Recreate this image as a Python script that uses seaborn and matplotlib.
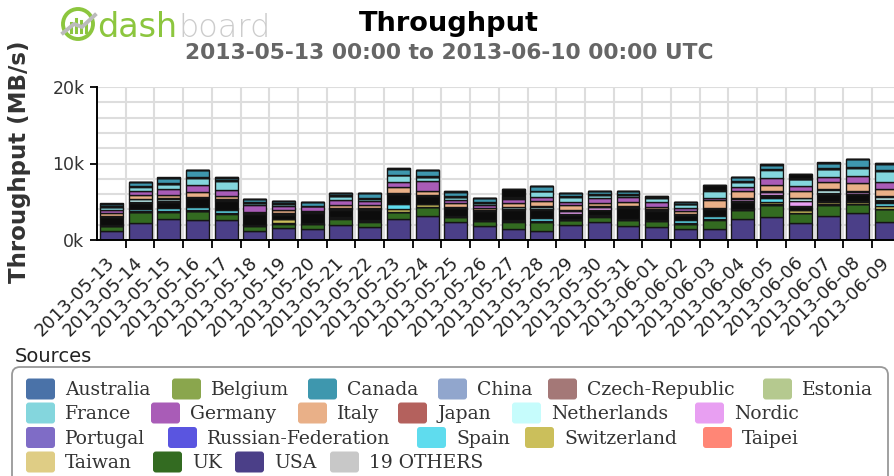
import numpy as np
import pandas as pd
import matplotlib
matplotlib.use("Agg")
import matplotlib.pyplot as plt
from matplotlib.patches import FancyBboxPatch, Circle
import seaborn as sns

# ==========================================
# DATA (throughput per source, in thousands of MB/s)
# ==========================================
days = ["2013-05-13", "2013-05-14", "2013-05-15", "2013-05-16", "2013-05-17",
        "2013-05-18", "2013-05-19", "2013-05-20", "2013-05-21", "2013-05-22",
        "2013-05-23", "2013-05-24", "2013-05-25", "2013-05-26", "2013-05-27",
        "2013-05-28", "2013-05-29", "2013-05-30", "2013-05-31", "2013-06-01",
        "2013-06-02", "2013-06-03", "2013-06-04", "2013-06-05", "2013-06-06",
        "2013-06-07", "2013-06-08", "2013-06-09"]

usa = [1.15, 2.2, 2.8, 2.6, 2.6, 1.2, 1.55, 1.5, 1.9, 1.75, 2.75, 3.1, 2.35, 1.8,
       1.5, 1.2, 1.9, 2.4, 1.85, 1.75, 1.4, 1.5, 2.7, 3.0, 2.25, 3.1, 3.5, 2.35]
uk = [0.65, 1.4, 0.85, 1.15, 0.85, 0.65, 0.6, 0.6, 0.9, 0.65, 0.85, 1.15, 0.65, 0.7,
      0.9, 1.15, 0.7, 0.65, 0.75, 0.75, 0.7, 1.15, 1.2, 1.55, 1.22, 1.45, 1.15, 1.65]
taiwan = [0.05, 0.06, 0.05, 0.05, 0.05, 0.04, 0.05, 0.04, 0.05, 0.05, 0.06, 0.05, 0.04, 0.04,
          0.05, 0.05, 0.04, 0.05, 0.04, 0.04, 0.04, 0.05, 0.06, 0.06, 0.05, 0.06, 0.06, 0.05]
taipei = [0.04, 0.04, 0.04, 0.05, 0.04, 0.03, 0.04, 0.04, 0.04, 0.04, 0.05, 0.05, 0.04, 0.04,
          0.04, 0.04, 0.03, 0.04, 0.04, 0.03, 0.03, 0.04, 0.05, 0.05, 0.04, 0.05, 0.05, 0.04]
switzerland = [0.02, 0.05, 0.03, 0.05, 0.04, 0.02, 0.45, 0.03, 0.04, 0.03, 0.35, 0.35, 0.03, 0.02,
               0.03, 0.05, 0.03, 0.03, 0.04, 0.02, 0.03, 0.04, 0.05, 0.35, 0.37, 0.37, 0.26, 0.38]
spain = [0.03, 0.35, 0.35, 0.35, 0.4, 0.02, 0.03, 0.02, 0.04, 0.03, 0.65, 0.05, 0.03, 0.03,
         0.04, 0.45, 0.03, 0.04, 0.05, 0.03, 0.45, 0.3, 0.05, 0.42, 0.05, 0.06, 0.05, 0.38]
others_mid = [1.05, 0.75, 0.8, 1.2, 1.15, 1.45, 0.6, 1.3, 1.0, 1.4, 1.25, 0.95, 1.0, 1.15,
              1.35, 1.0, 0.6, 0.65, 1.45, 1.2, 0.6, 0.95, 0.85, 0.38, 0.37, 0.92, 0.9, 0.25]
russia = [0.05, 0.05, 0.06, 0.05, 0.05, 0.05, 0.04, 0.05, 0.05, 0.05, 0.05, 0.05, 0.05, 0.05,
          0.05, 0.05, 0.05, 0.05, 0.05, 0.05, 0.04, 0.05, 0.05, 0.06, 0.05, 0.05, 0.05, 0.05]
portugal = [0.04, 0.04, 0.04, 0.04, 0.04, 0.03, 0.04, 0.03, 0.04, 0.04, 0.04, 0.04, 0.04, 0.04,
            0.04, 0.04, 0.03, 0.04, 0.04, 0.04, 0.03, 0.04, 0.04, 0.04, 0.04, 0.04, 0.05, 0.04]
nordic = [0.02, 0.03, 0.03, 0.02, 0.03, 0.02, 0.02, 0.02, 0.03, 0.02, 0.03, 0.03, 0.02, 0.02,
          0.03, 0.03, 0.4, 0.38, 0.03, 0.02, 0.02, 0.03, 0.35, 0.36, 0.67, 0.04, 0.26, 0.04]
netherlands = [0.02, 0.35, 0.35, 0.03, 0.03, 0.02, 0.02, 0.02, 0.03, 0.03, 0.04, 0.03, 0.02, 0.02,
               0.25, 0.3, 0.03, 0.03, 0.03, 0.02, 0.02, 0.03, 0.04, 0.05, 0.37, 0.43, 0.05, 0.45]
japan = [0.06, 0.06, 0.06, 0.07, 0.06, 0.05, 0.05, 0.05, 0.06, 0.06, 0.07, 0.06, 0.05, 0.05,
         0.06, 0.06, 0.05, 0.06, 0.06, 0.05, 0.05, 0.06, 0.06, 0.07, 0.06, 0.07, 0.07, 0.06]
italy = [0.4, 0.45, 0.45, 0.6, 0.45, 0.03, 0.4, 0.03, 0.45, 0.4, 0.8, 0.55, 0.58, 0.22,
         0.45, 0.65, 0.65, 0.45, 0.55, 0.37, 0.38, 0.95, 0.88, 0.8, 0.92, 0.98, 1.03, 0.95]
germany = [0.4, 0.6, 0.8, 0.9, 0.8, 0.9, 0.55, 0.65, 0.62, 0.52, 0.55, 1.2, 0.35, 0.35,
           0.55, 0.6, 0.4, 0.63, 0.62, 0.55, 0.44, 0.36, 0.6, 0.85, 0.6, 0.55, 0.84, 0.83]
france = [0.3, 0.55, 0.6, 0.95, 1.15, 0.33, 0.3, 0.03, 0.48, 0.35, 0.9, 0.55, 0.35, 0.33,
          0.15, 0.7, 0.7, 0.38, 0.3, 0.59, 0.42, 0.9, 0.6, 1.15, 0.85, 1.1, 1.1, 1.52]
estonia = [0.03, 0.03, 0.03, 0.03, 0.03, 0.02, 0.03, 0.02, 0.03, 0.03, 0.03, 0.03, 0.03, 0.03,
           0.03, 0.03, 0.03, 0.03, 0.03, 0.03, 0.02, 0.03, 0.03, 0.03, 0.03, 0.03, 0.03, 0.03]
czech = [0.04, 0.04, 0.04, 0.04, 0.04, 0.04, 0.03, 0.04, 0.04, 0.04, 0.04, 0.04, 0.04, 0.04,
         0.04, 0.04, 0.04, 0.04, 0.04, 0.04, 0.03, 0.04, 0.04, 0.04, 0.04, 0.04, 0.04, 0.04]
china = [0.03, 0.03, 0.03, 0.03, 0.03, 0.03, 0.03, 0.03, 0.03, 0.03, 0.03, 0.03, 0.03, 0.03,
         0.03, 0.03, 0.03, 0.03, 0.03, 0.03, 0.03, 0.03, 0.03, 0.04, 0.03, 0.03, 0.04, 0.03]
canada = [0.35, 0.45, 0.7, 0.9, 0.3, 0.43, 0.25, 0.45, 0.3, 0.58, 0.8, 0.81, 0.62, 0.5,
          0.05, 0.55, 0.35, 0.36, 0.38, 0.05, 0.18, 0.03, 0.52, 0.54, 0.03, 0.7, 1.0, 0.84]
others_top = [0, 0, 0, 0, 0, 0, 0, 0, 0, 0, 0, 0, 0, 0,
              1.0, 0, 0, 0, 0, 0, 0, 0.55, 0, 0, 0.55, 0, 0, 0]
belgium = [0.03, 0.03, 0.03, 0.03, 0.03, 0.03, 0.03, 0.03, 0.03, 0.03, 0.03, 0.03, 0.03, 0.03,
           0.03, 0.03, 0.03, 0.03, 0.03, 0.03, 0.03, 0.03, 0.03, 0.03, 0.03, 0.03, 0.03, 0.03]
australia = [0.03, 0.04, 0.03, 0.03, 0.03, 0.03, 0.03, 0.03, 0.03, 0.03, 0.04, 0.03, 0.03, 0.03,
             0.03, 0.03, 0.03, 0.03, 0.03, 0.03, 0.03, 0.03, 0.04, 0.04, 0.03, 0.04, 0.04, 0.03]

sources = ["Australia", "Belgium", "Canada", "China", "Czech-Republic", "Estonia",
           "France", "Germany", "Italy", "Japan", "Netherlands", "Nordic",
           "Portugal", "Russian-Federation", "Spain", "Switzerland", "Taipei",
           "Taiwan", "UK", "USA", "19 OTHERS"]
source_colors = ["#4a72a8", "#8aa64d", "#3e97ae", "#91a6cd", "#a47877", "#b5c98f",
                 "#84d6dd", "#a95cb7", "#e9b088", "#b4615d", "#c6fcfc", "#e89ff2",
                 "#7f6cc6", "#5a55e0", "#5fdcee", "#cbbf5b", "#ff8676",
                 "#dfcd85", "#336b21", "#4b3f88", "#c8c8c8"]
others_color = "#0c0c0c"   # 19 thin stacked series merge into black in the bars

# stacking order, top to bottom (seaborn puts the first hue level on top)
stack = {
    "Australia": australia, "Belgium": belgium, "others_top": others_top,
    "Canada": canada, "China": china, "Czech-Republic": czech, "Estonia": estonia,
    "France": france, "Germany": germany, "Italy": italy, "Japan": japan,
    "Netherlands": netherlands, "Nordic": nordic, "Portugal": portugal,
    "Russian-Federation": russia, "others_mid": others_mid, "Spain": spain,
    "Switzerland": switzerland, "Taipei": taipei, "Taiwan": taiwan,
    "UK": uk, "USA": usa,
}

rows = []
for name, vals in stack.items():
    for i, v in enumerate(vals):
        rows.append({"day": i, "source": name, "value": v})
df = pd.DataFrame(rows)

palette = dict(zip(sources, source_colors))
palette["others_top"] = others_color
palette["others_mid"] = others_color

# ==========================================
# FIGURE
# ==========================================
W, H = 894, 476
fig = plt.figure(figsize=(W / 100, H / 100), dpi=100)

ax = fig.add_axes([97 / W, 1 - 240 / H, (900.7 - 97) / W, 153 / H])
sns.histplot(data=df, x="day", weights="value", hue="source",
             hue_order=list(stack.keys()), multiple="stack", discrete=True,
             shrink=0.8, palette=palette, alpha=1, edgecolor="#151515",
             linewidth=1.0, legend=False, ax=ax)

ax.set_xlim(-0.5, 27.5)
ax.set_ylim(0, 20)
ax.set_xlabel("")
ax.set_ylabel("")
ax.set_axisbelow(True)

ax.set_xticks(range(len(days)))
ax.set_xticklabels(days, rotation=45, ha="right", va="center",
                   rotation_mode="anchor", fontsize=13, color="#222222")
ax.set_xticks(np.arange(0.5, 27, 1), minor=True)
ax.tick_params(axis="x", which="major", length=0, pad=14)
ax.tick_params(axis="x", which="minor", length=6, width=1.3, color="black")

ax.set_yticks([0, 10, 20])
ax.set_yticklabels(["0k", "10k", "20k"], fontsize=12.5, color="#333333")
ax.set_yticks(np.arange(2, 20, 2), minor=True)
ax.tick_params(axis="y", which="major", length=5, width=1.3, color="black", pad=4)
ax.tick_params(axis="y", which="minor", length=0)

ax.grid(False)
ax.xaxis.grid(True, which="minor", color="#dddddd", linewidth=1.5)
ax.yaxis.grid(True, which="both", color="#dddddd", linewidth=1.5)

for side in ["top", "right"]:
    ax.spines[side].set_visible(False)
for side in ["left", "bottom"]:
    ax.spines[side].set_color("black")
    ax.spines[side].set_linewidth(1.4)

# overlay in pixel units for header and legend
ov = fig.add_axes([0, 0, 1, 1])
ov.set_xlim(0, W)
ov.set_ylim(H, 0)
ov.axis("off")

ov.text(449, 31, "Throughput", ha="center", va="baseline",
        fontsize=19.6, fontweight="bold", color="black")
ov.text(449, 59, "2013-05-13 00:00 to 2013-06-10 00:00 UTC", ha="center",
        va="baseline", fontsize=15.7, fontweight="bold", color="#666666")
ov.text(20, 162, "Throughput (MB/s)", ha="center", va="center", rotation=90,
        fontsize=16.5, fontweight="bold", color="#333333")

# dashboard logo
ov.add_patch(Circle((78, 24), 15, fill=False, edgecolor="#8cc63e", linewidth=2.8))
for bx, bh in zip([71, 76, 81, 86], [9, 13, 11, 7]):
    ov.plot([bx, bx], [32, 32 - bh], color="#8cc63e", linewidth=2.2)
ov.plot([63, 74, 82, 95], [33, 24, 27, 15], color="#bbbbbb", linewidth=2.8)
ov.text(97, 37, "dash", ha="left", va="baseline", fontsize=24,
        fontweight="normal", color="#8cc63e")
ov.text(178, 37, "board", ha="left", va="baseline", fontsize=23,
        fontweight="light", color="#cccccc")

# legend
ov.text(15, 362, "Sources", ha="left", va="baseline", fontsize=14, color="#222222")
ov.add_patch(FancyBboxPatch((12, 367), 876, 120,
                            boxstyle="round,pad=0,rounding_size=8",
                            facecolor="white", edgecolor="#999999", linewidth=1.3))

legend_rows = [
    (389, [26, 172, 308, 438, 548, 763]),
    (413, [26, 151, 298, 398, 512, 695]),
    (437.5, [26, 168, 417, 525, 703]),
    (462, [26, 153, 235, 330]),
]
k = 0
for yc, xs in legend_rows:
    for x0 in xs:
        ov.add_patch(FancyBboxPatch((x0, yc - 10.5), 29, 21,
                                    boxstyle="round,pad=0,rounding_size=3",
                                    facecolor=source_colors[k], edgecolor="none"))
        ov.text(x0 + 39, yc + 1, sources[k], ha="left", va="center",
                fontsize=13.5, family="DejaVu Serif", color="#333333")
        k += 1

plt.savefig("out.png", dpi=100)
